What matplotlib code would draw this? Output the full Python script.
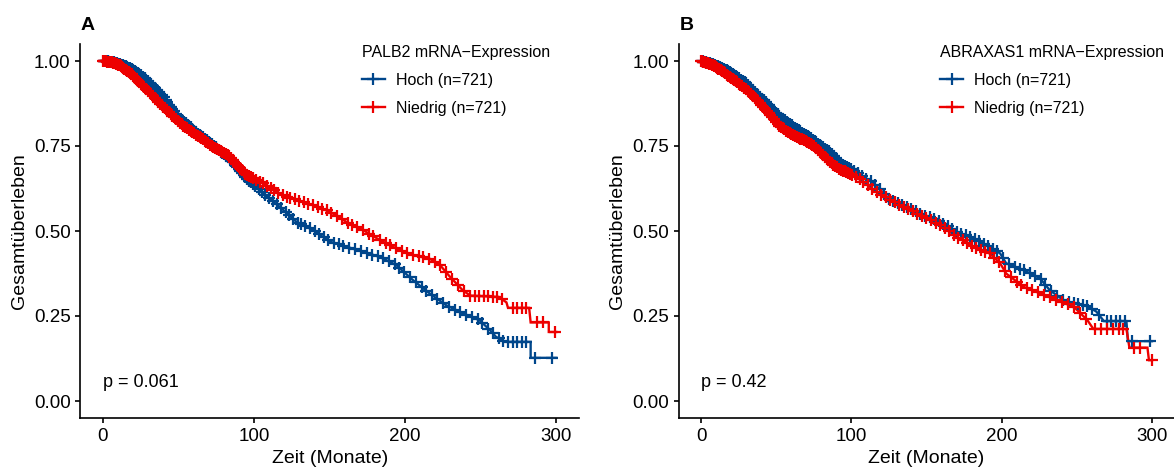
import numpy as np
import matplotlib
matplotlib.use("Agg")
import matplotlib.pyplot as plt
from matplotlib.lines import Line2D

plt.rcParams['font.family'] = ['Liberation Sans', 'DejaVu Sans']

# ---------------- data ----------------
group_labels = ["Hoch (n=721)", "Niedrig (n=721)"]
legend_titles = ["PALB2 mRNA\u2212Expression", "ABRAXAS1 mRNA\u2212Expression"]
panel_tags = ["A", "B"]
p_values = ["p = 0.061", "p = 0.42"]
x_ticks = [0, 100, 200, 300]
y_ticks = [0.00, 0.25, 0.50, 0.75, 1.00]
y_ticklabels = ["0.00", "0.25", "0.50", "0.75", "1.00"]

# Panel A – PALB2, Hoch
a_hoch_t = [0, 5, 12, 20, 30, 40, 51, 62, 73, 84, 95, 106, 117, 128, 139, 150, 161, 172, 183,
            194, 205, 216, 227, 238, 249, 256, 260, 266, 283, 283, 300]
a_hoch_s = [1.0, 0.998, 0.99, 0.975, 0.94, 0.895, 0.83, 0.79, 0.752, 0.712, 0.655, 0.61, 0.571,
            0.527, 0.503, 0.469, 0.454, 0.439, 0.424, 0.40, 0.356, 0.317, 0.282, 0.258, 0.238,
            0.209, 0.189, 0.174, 0.174, 0.127, 0.127]
a_hoch_cens = [0.5, 1, 1.5, 2, 2.5, 3, 3.5, 4.5, 5.2, 6, 7, 7.7, 8.5, 9.2, 10, 11.5, 12.2, 13,
               14, 15, 16, 17, 18, 19, 20, 21, 22, 23, 24, 25, 26.2, 27.5, 28.7, 30, 31, 32,
               33.2, 34.5, 35.7, 37, 38, 39, 40.2, 41.5, 42.7, 44, 45, 46, 47.2, 48.5, 49.7, 51,
               52.2, 53.5, 54.7, 56, 57, 58, 59.2, 60.5, 61.7, 63, 64, 65, 66.2, 67.5, 68.7, 70,
               71, 72, 73.2, 74.5, 75.7, 77, 78, 79, 80.2, 81.5, 82.7, 84, 85, 86, 87.2, 88.5,
               89.7, 91, 92, 93, 94.2, 95.5, 96.7, 98, 99.2, 100.5, 103, 105, 107.5, 110,
               112.5, 115, 118, 121, 123, 126, 129, 131, 134, 137, 140, 143, 146, 149, 153, 156,
               159, 163, 167, 171, 175, 178, 182, 185, 189, 193, 196, 199, 203, 207, 211, 214,
               218, 221, 225, 229, 233, 236, 240, 244, 248, 251, 255, 258, 262, 265, 268, 271,
               274, 277, 280, 286, 297]

# Panel A – PALB2, Niedrig
a_nied_t = [0, 5, 10, 18, 29, 40, 51, 62, 73, 84, 95, 106, 117, 128, 139, 150, 161, 172, 183,
            194, 205, 216, 223, 229.5, 238, 243, 262, 267, 268, 282, 283, 295, 295, 300]
a_nied_s = [1.0, 0.997, 0.99, 0.965, 0.915, 0.866, 0.817, 0.782, 0.748, 0.719, 0.664, 0.64,
            0.61, 0.591, 0.576, 0.557, 0.527, 0.503, 0.474, 0.449, 0.429, 0.419, 0.40, 0.366,
            0.326, 0.31, 0.306, 0.29, 0.274, 0.274, 0.231, 0.231, 0.203, 0.203]
a_nied_cens = [0, 0.5, 1, 1.5, 2, 2.5, 3, 4, 5, 5.7, 6.5, 7.2, 8, 8.7, 9.5, 10.2, 11, 11.7,
               12.5, 13.2, 14, 15, 16, 17, 18, 19, 20, 21, 22, 23, 24, 25, 26, 27.2, 28.5, 29.7,
               31, 32, 33, 34.2, 35.5, 36.7, 38, 39, 40, 41.2, 42.5, 43.7, 45, 46, 47, 48.2,
               49.5, 50.7, 52, 53.2, 54.5, 55.7, 57, 58, 59, 60.2, 61.5, 62.7, 64, 65, 66, 67.2,
               68.5, 69.7, 71, 72, 73, 74.2, 75.5, 76.7, 78, 79, 80, 81.2, 82.5, 83.7, 85, 86,
               87, 88.2, 89.5, 90.7, 92, 93, 94, 95.2, 96.5, 97.7, 99, 101.5, 104, 106, 108.5,
               111, 113.5, 116, 119, 122, 124, 127, 130, 133, 136, 139, 142, 145, 148, 151, 155,
               158, 162, 165, 168, 172, 176, 179, 183, 187, 190, 194, 198, 201, 205, 209, 212,
               216, 220, 223, 227, 231, 235, 239, 243, 246, 249, 252, 255, 258, 261, 264, 271,
               274, 277, 280, 287, 291, 299]

# Panel B – ABRAXAS1, Hoch
b_hoch_t = [0, 8, 19, 30, 41.5, 52.5, 63.5, 74.5, 85.5, 92.5, 97, 108, 115, 126, 137, 148, 159,
            170, 181, 192, 199, 203, 214.5, 225.5, 232, 241, 248, 257, 263, 268, 283, 284, 300]
b_hoch_s = [1.0, 0.99, 0.969, 0.934, 0.885, 0.836, 0.80, 0.768, 0.733, 0.699, 0.689, 0.66, 0.64,
            0.591, 0.571, 0.547, 0.527, 0.498, 0.478, 0.454, 0.434, 0.405, 0.385, 0.361, 0.326,
            0.297, 0.287, 0.279, 0.263, 0.235, 0.235, 0.176, 0.176]
b_hoch_cens = [0.5, 1, 1.5, 2, 2.5, 3, 3.5, 4.2, 5, 5.7, 6.5, 7.2, 8, 8.7, 9.5, 10.2, 11, 11.7,
               12.5, 13.2, 14, 15, 16, 17, 18, 19, 20, 21, 22, 23, 24, 25.2, 26.5, 27.7, 29, 30,
               31, 32.2, 33.5, 34.7, 36, 37, 38, 39.2, 40.5, 41.7, 43, 44, 45, 46.2, 47.5, 48.7,
               50, 51, 52, 53.2, 54.5, 55.7, 57, 58, 59, 60.2, 61.5, 62.7, 64, 65, 66, 67.2,
               68.5, 69.7, 71, 72, 73, 74.2, 75.5, 76.7, 78, 79, 80, 81.2, 82.5, 83.7, 85, 86,
               87, 88.2, 89.5, 90.7, 92, 93.2, 94.5, 95.7, 97, 98.2, 99.5, 102, 104.5, 107, 110,
               113, 116, 119, 122, 125, 128, 131, 134, 137, 140, 143, 146, 149, 152, 155, 158,
               161, 164, 167, 170, 173, 176, 179, 182, 185, 188, 191, 194, 197, 201, 205, 209,
               212, 215, 219, 222, 226, 229, 233, 237, 241, 245, 248, 251, 254, 257, 260, 265,
               270, 273, 276, 279, 282, 287, 299]

# Panel B – ABRAXAS1, Niedrig
b_nied_t = [0, 8, 19, 30.5, 41.5, 52.5, 63.5, 74.5, 85.5, 92.5, 97, 108, 115, 126, 137, 148,
            159, 170, 181, 192, 199, 203, 214.5, 225.5, 236.5, 248, 257, 261, 283, 285, 297,
            298, 300]
b_nied_s = [1.0, 0.988, 0.954, 0.915, 0.866, 0.807, 0.777, 0.753, 0.704, 0.68, 0.674, 0.645,
            0.62, 0.591, 0.567, 0.542, 0.518, 0.483, 0.454, 0.434, 0.405, 0.375, 0.336, 0.317,
            0.297, 0.277, 0.238, 0.212, 0.212, 0.157, 0.157, 0.12, 0.12]
b_nied_cens = [0, 0.5, 1, 1.5, 2, 2.5, 3, 3.5, 4, 4.7, 5.5, 6.2, 7, 7.7, 8.5, 9.2, 10, 10.7,
               11.5, 12.2, 13, 14, 15, 16, 17, 18, 19, 20, 21, 22, 23, 24, 25, 26.2, 27.5, 28.7,
               30, 31, 32, 33.2, 34.5, 35.7, 37, 38, 39, 40.2, 41.5, 42.7, 44, 45, 46, 47.2,
               48.5, 49.7, 51, 52, 53, 54.2, 55.5, 56.7, 58, 59, 60, 61.2, 62.5, 63.7, 65, 66,
               67, 68.2, 69.5, 70.7, 72, 73, 74, 75.2, 76.5, 77.7, 79, 80, 81, 82.2, 83.5, 84.7,
               86, 87, 88, 89.2, 90.5, 91.7, 93, 94.2, 95.5, 96.7, 98, 99.2, 100.5, 103, 105.5,
               108, 111, 114, 117, 120, 123, 126, 129, 132, 135, 138, 141, 144, 147, 150, 153,
               156, 159, 162, 165, 168, 171, 174, 177, 180, 183, 186, 189, 192, 195, 198, 202,
               206, 210, 213, 217, 220, 224, 228, 232, 236, 240, 244, 248, 252, 256, 262, 266,
               270, 274, 278, 281, 288, 292, 300]

panels = [
    ((a_hoch_t, a_hoch_s, a_hoch_cens), (a_nied_t, a_nied_s, a_nied_cens)),
    ((b_hoch_t, b_hoch_s, b_hoch_cens), (b_nied_t, b_nied_s, b_nied_cens)),
]

colors = ["#00468B", "#ED0000"]

# ---------------- figure ----------------
W, H = 1174, 468
fig = plt.figure(figsize=(W / 100, H / 100), dpi=100, facecolor="white")

axes_px = [(80.3, 579.0), (678.5, 1174.5)]
top_px, bot_px = 44.0, 418.0

for i, (ax_x, series) in enumerate(zip(axes_px, panels)):
    l, r = ax_x
    ax = fig.add_axes([l / W, 1 - bot_px / H, (r - l) / W, (bot_px - top_px) / H])
    for (t, s, cens), col in zip(series, colors):
        t = np.asarray(t, float)
        s = np.asarray(s, float)
        ax.plot(t, s, color=col, lw=1.7, solid_joinstyle="miter", zorder=2)
        c = np.asarray(cens, float)
        cy = np.interp(c, t, s)
        ax.plot(c, cy, linestyle="none", marker="+", color=col, ms=8.5, mew=1.6, zorder=3)

    ax.set_xlim(-15, 315)
    ax.set_ylim(-0.05, 1.05)
    ax.set_xticks(x_ticks)
    ax.set_yticks(y_ticks)
    ax.set_yticklabels(y_ticklabels)
    for sp in ["top", "right"]:
        ax.spines[sp].set_visible(False)
    for sp in ["left", "bottom"]:
        ax.spines[sp].set_linewidth(1.2)
    ax.tick_params(axis="both", direction="out", length=3.5, width=1.2, labelsize=13.5,
                   pad=3.5, colors="black")
    ax.set_xlabel("Zeit (Monate)", fontsize=14)
    ax.set_ylabel("Gesamtüberleben", fontsize=14)
    ax.xaxis.set_label_coords(0.5, -0.107)
    ax.xaxis.label.set_va("center")
    ax.yaxis.set_label_coords(-61.0 / (r - l), 0.5)
    ax.yaxis.label.set_va("center")

    ax.text(0, 0.053, p_values[i], fontsize=13, ha="left", va="center")

    handles = [Line2D([], [], color=c_, lw=1.7, marker="+", ms=8.5, mew=1.6) for c_ in colors]
    ax.legend(handles, group_labels, title=legend_titles[i], loc="upper center",
              bbox_to_anchor=(0.753, 0.998), frameon=False, fontsize=11.5,
              title_fontsize=11.5, alignment="left", handlelength=1.45,
              handletextpad=0.7, labelspacing=0.82, borderpad=0, borderaxespad=0)

    fig.text((81 if i == 0 else 680) / W, 1 - 25 / H, panel_tags[i], fontsize=14,
             fontweight="bold", ha="left", va="center")

fig.savefig("out.png", dpi=100, facecolor="white")
